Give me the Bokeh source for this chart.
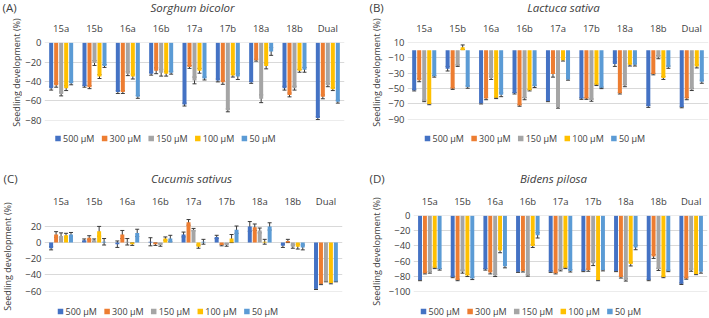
import math

from bokeh.plotting import figure
from bokeh.models import Range1d, FixedTicker, Whisker, TeeHead, ColumnDataSource
from bokeh.core.properties import value
from bokeh.layouts import column, row
from bokeh.embed import file_html
from bokeh.resources import INLINE

# Compounds tested and concentration levels
categories = ["15a", "15b", "16a", "16b", "17a", "17b", "18a", "18b", "Dual"]
concentrations = ["500 μM", "300 μM", "150 μM", "100 μM", "50 μM"]
colors = ["#4472C4", "#ED7D31", "#A5A5A5", "#FFC000", "#5B9BD5"]
y_title = "Seedling development (%)"

# (A) Sorghum bicolor – seedling development (%) and error
sorghum_500 = [-47, -45, -51, -32, -64, -39, -41, -47, -78]
sorghum_300 = [-44, -46, -51, -29, -25, -41, -18, -54, -56]
sorghum_150 = [-53, -21, -32, -31, -39, -70, -58, -47, -44]
sorghum_100 = [-47, -35, -35, -32, -29, -34, -24, -29, -48]
sorghum_50 = [-42, -24, -56, -31, -37, -35, -9, -28, -61]
sorghum_err_500 = [2, 1, 1.5, 1.5, 1.5, 1.5, 1, 2, 1.5]
sorghum_err_300 = [2, 1.5, 1.5, 3, 1.5, 2, 1, 2, 2]
sorghum_err_150 = [2, 2.5, 2, 3.5, 3.5, 1.5, 4, 2, 1.5]
sorghum_err_100 = [2.5, 2, 2.5, 2.5, 2.5, 1.5, 3, 1.5, 1.5]
sorghum_err_50 = [1.5, 1.5, 1.5, 1.5, 1.5, 3, 4, 2.5, 1.5]

# (B) Lactuca sativa
lactuca_500 = [-52, -24, -69, -56, -66, -63, -18, -73, -74]
lactuca_300 = [-39, -50, -63, -72, -31, -63, -56, -31, -63]
lactuca_150 = [-66, -20, -36, -63, -74, -65, -46, -9, -51]
lactuca_100 = [-70, 4, -62, -52, -13, -45, -19, -36, -21]
lactuca_50 = [-34, -48, -58, -47, -38, -49, -19, -22, -41]
lactuca_err_500 = [1, 3, 1, 1, 1, 1, 3, 1.5, 1]
lactuca_err_300 = [2, 1, 1.5, 1, 4, 1, 1, 1, 1.5]
lactuca_err_150 = [1, 1, 2, 1.5, 1.5, 1.5, 1.5, 2, 1.5]
lactuca_err_100 = [1, 3, 1, 1, 1, 1, 1.5, 2, 2]
lactuca_err_50 = [1, 1.5, 2.5, 1.5, 1, 1, 1.5, 1.5, 2]

# (C) Cucumis sativus
cucumis_500 = [-7, 3, -2, 1, 10, 7, 20, -4, -57]
cucumis_300 = [10, 6, 10, -2, 25, -3, 19, 2, -51]
cucumis_150 = [8, 3, 1, -3, 16, -3, 15, -5, -48]
cucumis_100 = [9, 14, -2, 5, -5, 5, 1, -5, -50]
cucumis_50 = [10, 1, 12, 5, 1, 16, 20, -6, -48]
cucumis_err_500 = [2, 1.5, 4, 5, 3, 2, 6, 2, 1]
cucumis_err_300 = [3.5, 2.5, 5, 1.5, 3.5, 1, 4, 2, 1]
cucumis_err_150 = [4, 1.5, 4, 1.5, 1.5, 1.5, 3, 2, 0.5]
cucumis_err_100 = [2.5, 6, 1.5, 2, 2, 5, 3, 3, 1]
cucumis_err_50 = [2.5, 4, 4.5, 4, 3, 4.5, 4.5, 3, 0.5]

# (D) Bidens pilosa
bidens_500 = [-85, -81, -71, -74, -74, -73, -73, -85, -90]
bidens_300 = [-76, -85, -75, -73, -76, -72, -81, -54, -83]
bidens_150 = [-75, -74, -79, -79, -72, -63, -85, -71, -72]
bidens_100 = [-69, -79, -46, -40, -69, -85, -64, -81, -77]
bidens_50 = [-71, -83, -67, -26, -73, -72, -42, -73, -74]
bidens_err_500 = [1, 1, 1, 1, 1, 1, 1, 1, 1]
bidens_err_300 = [1, 1, 2, 1.5, 1, 1.5, 1.5, 2.5, 1]
bidens_err_150 = [1, 2, 1.5, 1, 1, 3, 1.5, 1.5, 1.5]
bidens_err_100 = [1, 1.5, 3, 2, 1, 1, 2.5, 1, 1]
bidens_err_50 = [1, 1.5, 2, 3.5, 1.5, 1, 3, 1, 2]

FONT = "Open Sans"
TEXT = "#404040"
OFFSETS = [-0.3, -0.15, 0.0, 0.15, 0.3]
CENTERS = [i + 0.5 for i in range(len(categories))]
LEGEND_PITCH = 46.6


def strip(width, height, x_range, left=0, right=0):
    """Axis-free drawing area used for panel letters, titles and legend rows."""
    s = figure(width=width, height=height, x_range=x_range,
               y_range=Range1d(0, height), x_axis_location=None,
               y_axis_location=None, min_border=0,
               min_border_left=left, min_border_right=right,
               min_border_top=0, min_border_bottom=0,
               toolbar_location=None, output_backend="svg")
    try:
        s.frame_align = False
    except AttributeError:
        pass
    s.outline_line_color = None
    s.grid.visible = False
    return s


def side(width, height, letter, letter_x, title_x, title_y):
    """Panel letter plus the rotated y-axis title."""
    s = strip(width, height, Range1d(0, width))
    s.text(x=[letter_x], y=[height - 7], text=[letter], text_font=value(FONT),
           text_font_size=value("11.5px"), text_color=TEXT,
           text_align="left", text_baseline="middle")
    s.text(x=[title_x], y=[height - title_y], text=[y_title], angle=math.pi / 2,
           text_font=value(FONT), text_font_size=value("9px"), text_color=TEXT,
           text_align="center", text_baseline="middle")
    return s


def header(total_w, side_w, left, right, species, species_x):
    s = strip(total_w - side_w, 18, Range1d(left, total_w - right), left - side_w, right)
    s.text(x=[species_x], y=[11], text=[species], text_font=value(FONT),
           text_font_size=value("11.5px"), text_font_style="italic",
           text_color=TEXT, text_align="center", text_baseline="middle")
    return s


def legend_row(total_w, side_w, left, right, height, x0, yc):
    s = strip(total_w - side_w, height, Range1d(left, total_w - right), left - side_w, right)
    xs = [x0 + i * LEGEND_PITCH for i in range(len(concentrations))]
    s.scatter(x=xs, y=[yc] * len(xs), marker="square", size=5.5,
              fill_color=colors, line_color=None)
    s.text(x=[x + 5 for x in xs], y=[yc] * len(xs), text=concentrations,
           text_font=value(FONT), text_font_size=value("9px"), text_color=TEXT,
           text_align="left", text_baseline="middle")
    return s


def chart(series, errors, y_range, ticks, frame_w, frame_h, left, right, top, bottom):
    p = figure(x_range=Range1d(0, len(categories)), y_range=Range1d(*y_range),
               frame_width=frame_w, frame_height=frame_h, output_backend="svg",
               toolbar_location=None, x_axis_location="above",
               min_border_left=left, min_border_right=right,
               min_border_top=top, min_border_bottom=bottom)
    p.outline_line_color = None

    # category names along the top
    xa = p.xaxis[0]
    xa.ticker = FixedTicker(ticks=CENTERS)
    xa.major_label_overrides = {c: name for c, name in zip(CENTERS, categories)}
    xa.axis_line_color = None
    xa.major_tick_line_color = None
    xa.minor_tick_line_color = None
    xa.major_tick_out = 0
    xa.major_tick_in = 0
    xa.major_label_standoff = 8
    xa.major_label_text_font = FONT
    xa.major_label_text_font_size = "9.5px"
    xa.major_label_text_color = TEXT

    ya = p.yaxis[0]
    ya.ticker = FixedTicker(ticks=ticks)
    ya.axis_line_color = None
    ya.major_tick_line_color = None
    ya.minor_tick_line_color = None
    ya.major_tick_out = 0
    ya.major_tick_in = 0
    ya.major_label_standoff = 3
    ya.major_label_text_font = FONT
    ya.major_label_text_font_size = "9.5px"
    ya.major_label_text_color = TEXT

    p.xgrid.grid_line_color = None
    p.ygrid.ticker = FixedTicker(ticks=ticks)
    p.ygrid.grid_line_color = "#d9d9d9"
    p.ygrid.grid_line_width = 1

    for vals, errs, off, color in zip(series, errors, OFFSETS, colors):
        src = ColumnDataSource(dict(
            x=[c + off for c in CENTERS], value=vals,
            upper=[v + e for v, e in zip(vals, errs)],
            lower=[v - e for v, e in zip(vals, errs)],
        ))
        p.vbar(x="x", top="value", bottom=0, width=0.12, source=src,
               fill_color=color, line_color=None)
        p.add_layout(Whisker(base="x", upper="upper", lower="lower", source=src,
                             dimension="height", line_color="#3a3a3a", line_width=1,
                             upper_head=TeeHead(size=4, line_color="#3a3a3a", line_width=1),
                             lower_head=TeeHead(size=4, line_color="#3a3a3a", line_width=1)))
    return p


def panel(letter, species, series, errors, y_range, ticks, total_w, total_h,
          side_w, left, right, frame_w, frame_h, top, bottom, letter_x,
          title_pos, species_x, legend_h, legend_x0, legend_y):
    return row(
        side(side_w, total_h, letter, letter_x, *title_pos),
        column(
            header(total_w, side_w, left, right, species, species_x),
            chart(series, errors, y_range, ticks, frame_w, frame_h,
                  left - side_w, right, top, bottom),
            legend_row(total_w, side_w, left, right, legend_h, legend_x0, legend_y),
        ),
    )


panel_a = panel("(A)", "Sorghum bicolor",
                [sorghum_500, sorghum_300, sorghum_150, sorghum_100, sorghum_50],
                [sorghum_err_500, sorghum_err_300, sorghum_err_150, sorghum_err_100, sorghum_err_50],
                (-80.5, 0.3), [0, -20, -40, -60, -80],
                354, 171, 22, 42, 12, 300, 78, 24, 8, 2, (15.5, 72), 192, 43, 57.5, 33)
panel_b = panel("(B)", "Lactuca sativa",
                [lactuca_500, lactuca_300, lactuca_150, lactuca_100, lactuca_50],
                [lactuca_err_500, lactuca_err_300, lactuca_err_150, lactuca_err_100, lactuca_err_50],
                (-90.3, 10.2), [10, -10, -30, -50, -70, -90],
                355, 171, 28, 51, 3, 301, 77, 24, 9, 13, (20, 72), 207, 43, 71, 33)
panel_c = panel("(C)", "Cucumis sativus",
                [cucumis_500, cucumis_300, cucumis_150, cucumis_100, cucumis_50],
                [cucumis_err_500, cucumis_err_300, cucumis_err_150, cucumis_err_100, cucumis_err_50],
                (-60.5, 33.5), [20, 0, -20, -40, -60],
                354, 147, 22, 43, 13, 298, 76, 26, 8, 3, (7, 85), 191, 19, 60, 7)
panel_d = panel("(D)", "Bidens pilosa",
                [bidens_500, bidens_300, bidens_150, bidens_100, bidens_50],
                [bidens_err_500, bidens_err_300, bidens_err_150, bidens_err_100, bidens_err_50],
                (-100.3, 0.3), [0, -20, -40, -60, -80, -100],
                355, 147, 30, 57, 4, 294, 76, 26, 8, 14, (21, 80), 198, 19, 68, 7)

layout = column(row(panel_a, panel_b), row(panel_c, panel_d))
open("out.html", "w").write(file_html(layout, INLINE))
